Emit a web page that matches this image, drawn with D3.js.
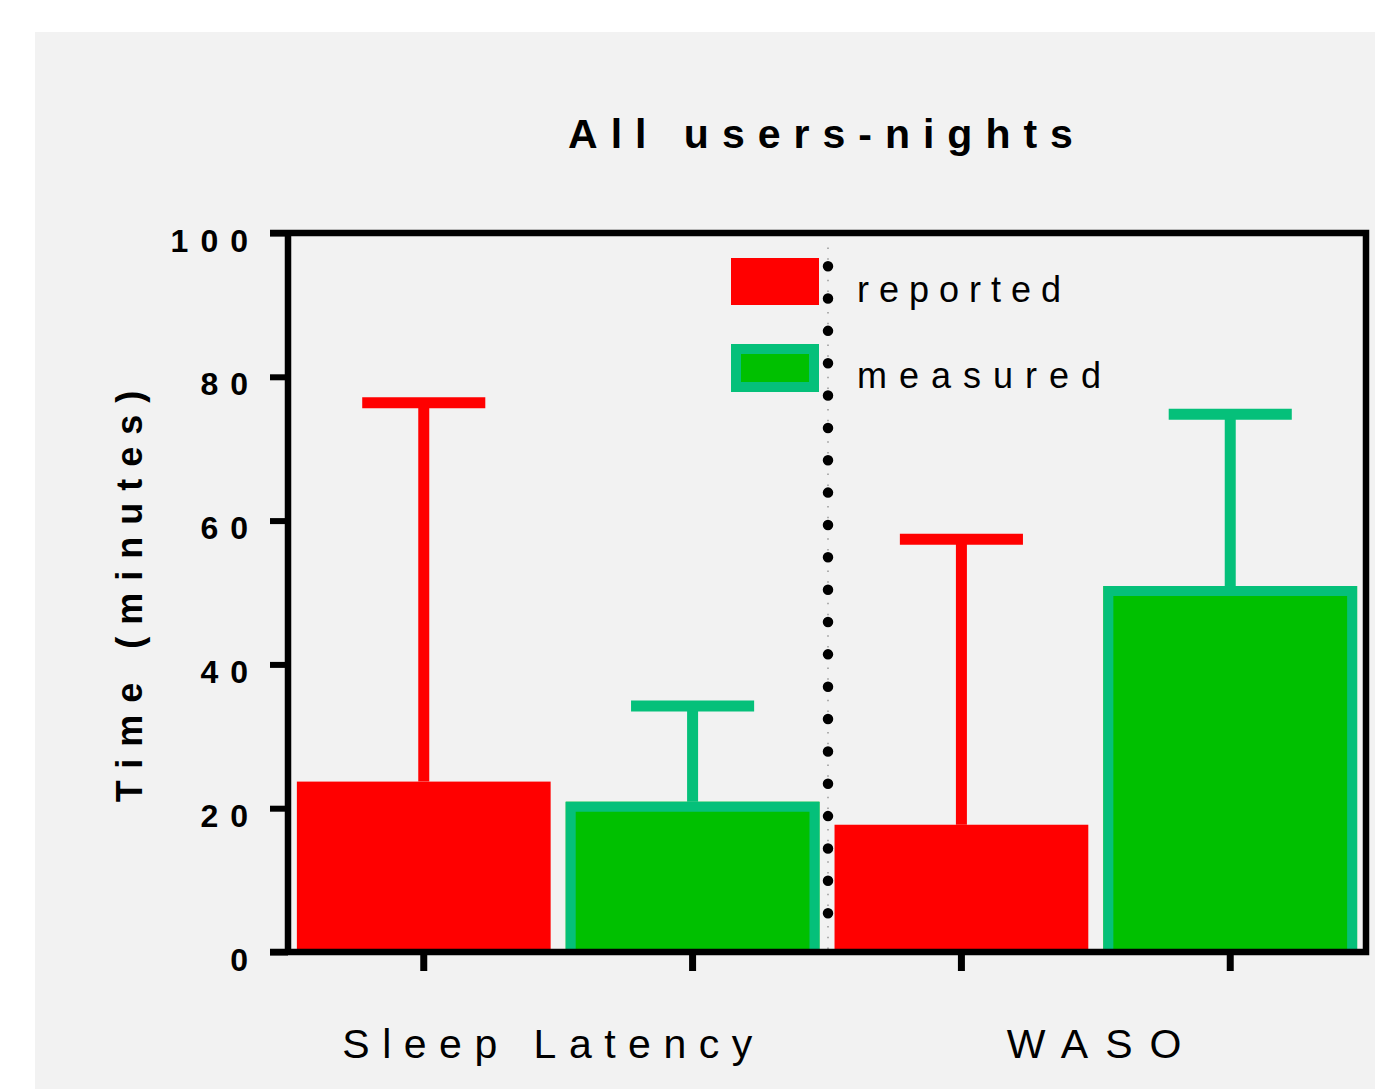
<!DOCTYPE html>
<html>
<head>
<meta charset="utf-8">
<script src="https://cdn.jsdelivr.net/npm/d3@7"></script>
<style>
  body { margin: 0; background: #fff; }
  text { font-family: "Liberation Sans", Arial, sans-serif; fill: #000; }
</style>
</head>
<body>
<div id="chart"></div>
<script>
// Chart values
const categories = ["Sleep Latency", "WASO"];
const groups = ["reported", "measured"];
const reportedMean = [23.7, 17.7];
const reportedSD = [52.7, 39.7];
const measuredMean = [20.9, 50.9];
const measuredSD = [13.3, 23.9];
const yTicks = [0, 20, 40, 60, 80, 100];

const red = "#ff0000";
const teal = "#05c07a";
const green = "#00c000";

// build rows for the bars
const bars = [];
categories.forEach((c, i) => {
    bars.push({ cat: c, group: "reported", mean: reportedMean[i], sd: reportedSD[i] });
    bars.push({ cat: c, group: "measured", mean: measuredMean[i], sd: measuredSD[i] });
});

const W = 1375, H = 1089;
const plot = { left: 288, right: 1366, top: 233, bottom: 952 };

const svg = d3.select("#chart")
    .append("svg")
    .attr("width", W)
    .attr("height", H);

// grey panel
svg.append("rect")
    .attr("x", 35).attr("y", 32)
    .attr("width", W - 35).attr("height", H - 32)
    .attr("fill", "#f2f2f2");

// scales
const xBar = d3.scaleBand()
    .domain(bars.map(d => d.cat + "|" + d.group))
    .range([plot.left, plot.right])
    .paddingInner(0.056)
    .paddingOuter(0.033);

const xCat = d3.scaleBand()
    .domain(categories)
    .range([plot.left, plot.right]);

const y = d3.scaleLinear()
    .domain([0, 100])
    .range([plot.bottom, plot.top]);

const key = d => d.cat + "|" + d.group;

// bars
const bw = xBar.bandwidth();
svg.selectAll(".bar")
    .data(bars)
    .enter().append("rect")
    .attr("class", "bar")
    .attr("x", d => xBar(key(d)))
    .attr("y", d => y(d.mean))
    .attr("width", bw)
    .attr("height", d => y(0) - y(d.mean))
    .attr("fill", d => d.group === "measured" ? green : red);

// teal border on the measured bars (open at the bottom)
svg.selectAll(".border")
    .data(bars.filter(d => d.group === "measured"))
    .enter().append("path")
    .attr("class", "border")
    .attr("d", d => {
        const x0 = xBar(key(d)) + 5, x1 = xBar(key(d)) + bw - 5;
        return `M${x0},${y(0)} V${y(d.mean) + 5} H${x1} V${y(0)}`;
    })
    .attr("fill", "none")
    .attr("stroke", teal)
    .attr("stroke-width", 10);

// error bars (upper only)
const capW = bw * 0.485;
svg.selectAll(".err")
    .data(bars)
    .enter().append("line")
    .attr("class", "err")
    .attr("x1", d => xBar(key(d)) + bw / 2)
    .attr("x2", d => xBar(key(d)) + bw / 2)
    .attr("y1", d => y(d.mean))
    .attr("y2", d => y(d.mean + d.sd))
    .attr("stroke", d => d.group === "measured" ? teal : red)
    .attr("stroke-width", 11);

svg.selectAll(".cap")
    .data(bars)
    .enter().append("line")
    .attr("class", "cap")
    .attr("x1", d => xBar(key(d)) + bw / 2 - capW / 2)
    .attr("x2", d => xBar(key(d)) + bw / 2 + capW / 2)
    .attr("y1", d => y(d.mean + d.sd))
    .attr("y2", d => y(d.mean + d.sd))
    .attr("stroke", d => d.group === "measured" ? teal : red)
    .attr("stroke-width", 11);

// dotted divider between the two categories
const divX = xCat(categories[1]) + 1;
svg.append("line")
    .attr("x1", divX).attr("x2", divX)
    .attr("y1", plot.bottom - 3).attr("y2", y(98.5))
    .attr("stroke", "#999")
    .attr("stroke-width", 1.5)
    .attr("stroke-dasharray", "1.5 9.27");
svg.append("line")
    .attr("x1", divX).attr("x2", divX)
    .attr("y1", y(5.4)).attr("y2", y(95.7))
    .attr("stroke", "#000")
    .attr("stroke-width", 10.5)
    .attr("stroke-linecap", "round")
    .attr("stroke-dasharray", "0 32.35");

// y axis ticks + labels
const yAxis = svg.append("g")
    .attr("transform", `translate(${plot.left}, 0)`)
    .call(d3.axisLeft(y).tickValues(yTicks).tickSize(18).tickPadding(3));
yAxis.select(".domain").remove();
yAxis.selectAll(".tick line").attr("stroke", "#000").attr("stroke-width", 6);
yAxis.selectAll(".tick text")
    .attr("x", -28)
    .attr("dy", 18)
    .style("font-size", "32px")
    .style("font-weight", "bold")
    .style("letter-spacing", "12px");

// x axis ticks at bar centres
const xAxis = svg.append("g")
    .attr("transform", `translate(0, ${plot.bottom})`)
    .call(d3.axisBottom(xBar).tickSize(19).tickFormat(""));
xAxis.select(".domain").remove();
xAxis.selectAll(".tick line").attr("stroke", "#000").attr("stroke-width", 7);

// category labels
const catAxis = svg.append("g")
    .attr("transform", `translate(0, ${plot.bottom})`)
    .call(d3.axisBottom(xCat).tickSize(0));
catAxis.select(".domain").remove();
catAxis.selectAll(".tick text")
    .attr("y", 106)
    .attr("dy", 0)
    .attr("dx", d => d === "WASO" ? 6 : -4)
    .style("font-size", "41px")
    .style("letter-spacing", d => d === "WASO" ? "17px" : "12.5px");

// frame
svg.append("path")
    .attr("d", `M${plot.left - 18},${plot.top} H${plot.right} V${plot.bottom} H${plot.left - 18}
               M${plot.left},${plot.top} V${plot.bottom}`)
    .attr("fill", "none")
    .attr("stroke", "#000")
    .attr("stroke-width", 6.5);

// title
svg.append("text")
    .attr("x", (plot.left + plot.right) / 2)
    .attr("y", 148)
    .attr("text-anchor", "middle")
    .style("font-size", "41px")
    .style("font-weight", "bold")
    .style("letter-spacing", "13px")
    .text("All users-nights");

// y title
svg.append("text")
    .attr("transform", `translate(142, ${(plot.top + plot.bottom) / 2 - 2}) rotate(-90)`)
    .attr("text-anchor", "middle")
    .style("font-size", "36px")
    .style("font-weight", "bold")
    .style("letter-spacing", "12px")
    .text("Time (minutes)");

// legend
const legend = svg.selectAll(".legend")
    .data(groups)
    .enter().append("g")
    .attr("class", "legend")
    .attr("transform", (d, i) => `translate(731, ${258 + i * 86})`);

legend.append("rect")
    .attr("x", d => d === "measured" ? 5 : 0)
    .attr("y", d => d === "measured" ? 5 : 0)
    .attr("width", d => d === "measured" ? 78 : 88)
    .attr("height", d => d === "measured" ? 38 : 47)
    .attr("fill", d => d === "measured" ? green : red)
    .attr("stroke", d => d === "measured" ? teal : "none")
    .attr("stroke-width", 10);

legend.append("text")
    .attr("x", 126)
    .attr("y", 44)
    .style("font-size", "36px")
    .style("letter-spacing", d => d === "measured" ? "12px" : "10px")
    .text(d => d);
</script>
</body>
</html>
